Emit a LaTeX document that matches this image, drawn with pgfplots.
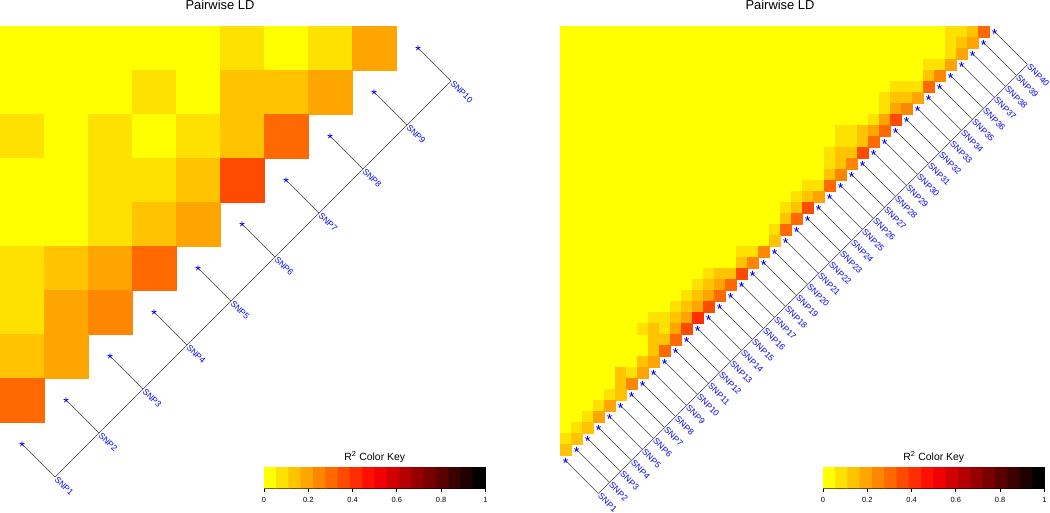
\documentclass[border=0pt]{standalone}
\usepackage{fontspec}
\setmainfont{Liberation Sans}
\usepackage{pgfplots}
\usepackage{pgfplotstable}
\pgfplotsset{compat=1.18}

\definecolor{ld0}{RGB}{255,255,0}
\pgfplotsset{
  colormap={ld}{rgb255=(255,255,0) rgb255=(255,225,0) rgb255=(255,195,0) rgb255=(255,165,0)
    rgb255=(255,135,0) rgb255=(255,105,0) rgb255=(255,75,0) rgb255=(255,45,0) rgb255=(255,15,0)
    rgb255=(240,0,0) rgb255=(210,0,0) rgb255=(180,0,0) rgb255=(150,0,0) rgb255=(120,0,0)
    rgb255=(90,0,0) rgb255=(60,0,0) rgb255=(30,0,0) rgb255=(0,0,0)},
  ldpanel/.style={hide axis, clip=false, y dir=reverse, anchor=north west,
    colormap name=ld, point meta min=0, point meta max=17},
  ldcells/.style={scatter, only marks, mark=square*, scatter src=explicit,
    scatter/use mapped color={draw=mapped color, fill=mapped color},
    mark options={line width=0.2pt}},
  snpline/.style={black!75, line width=0.5pt},
  snpstar/.style={only marks, mark=star, blue, mark size=2pt, mark options={line width=0.55pt}},
  snplab/.style={snpline, nodes near coords, point meta=explicit symbolic,
    nodes near coords style={anchor=west, rotate=-45, text=blue,
      font=\fontsize{6.4}{7.5}\selectfont, inner sep=1pt}},
  ldkey/.style={anchor=south west, scale only axis, width=166pt, height=15.75pt,
    xmin=0, xmax=1, ymin=0, ymax=1, colormap name=ld, point meta min=0, point meta max=17,
    xtick={0,0.2,0.4,0.6,0.8,1}, xticklabels={0,0.2,0.4,0.6,0.8,1}, ytick=\empty,
    xtick pos=left, tick align=outside, major tick length=3pt,
    tick style={black, line width=0.5pt}, axis line style={black, line width=0.6pt},
    ticklabel style={font=\fontsize{5.6}{6}\selectfont},
    xticklabel style={yshift=-0.8pt},
    every axis title shift=0pt,
    title={R\textsuperscript{2} Color Key},
    title style={font=\fontsize{7.8}{9}\selectfont, at={(0.5,1)}, anchor=base, yshift=5.2pt}},
}

% colour key: 18 blocks, two rows for the matrix plot
\pgfplotstableread{
k y
0 0.25
1 0.25
2 0.25
3 0.25
4 0.25
5 0.25
6 0.25
7 0.25
8 0.25
9 0.25
10 0.25
11 0.25
12 0.25
13 0.25
14 0.25
15 0.25
16 0.25
17 0.25
0 0.75
1 0.75
2 0.75
3 0.75
4 0.75
5 0.75
6 0.75
7 0.75
8 0.75
9 0.75
10 0.75
11 0.75
12 0.75
13 0.75
14 0.75
15 0.75
16 0.75
17 0.75
}\keytab

% left: 10 SNPs, colour index of every cell (c = column, r = row from top)
\pgfplotstableread{
c r v
0 0 0
1 0 0
2 0 0
3 0 0
4 0 0
5 0 1
6 0 0
7 0 1
8 0 3
0 1 0
1 1 0
2 1 0
3 1 1
4 1 0
5 1 2
6 1 2
7 1 3
0 2 1
1 2 0
2 2 1
3 2 0
4 2 1
5 2 2
6 2 5
0 3 0
1 3 0
2 3 1
3 3 1
4 3 2
5 3 6
0 4 0
1 4 0
2 4 1
3 4 2
4 4 3
0 5 1
1 5 2
2 5 3
3 5 5
0 6 1
1 6 3
2 6 4
0 7 2
1 7 3
0 8 5
}\leftcells

\pgfplotstableread{
x y
0 9
1 8
2 7
3 6
4 5
5 4
6 3
7 2
8 1
9 0
}\leftstars

\pgfplotstableread{
x y lab
0.75 9.75 SNP1
1.75 8.75 SNP2
2.75 7.75 SNP3
3.75 6.75 SNP4
4.75 5.75 SNP5
5.75 4.75 SNP6
6.75 3.75 SNP7
7.75 2.75 SNP8
8.75 1.75 SNP9
9.75 0.75 SNP10
}\leftbase

% right: 40 SNPs, cells that are not 0 (all others are 0)
\pgfplotstableread{
c r v
35 0 1
36 0 1
37 0 2
38 0 5
35 1 1
36 1 2
37 1 3
35 2 1
36 2 3
33 3 1
34 3 1
35 3 3
33 4 2
34 4 4
30 5 1
31 5 1
32 5 1
33 5 5
29 6 1
30 6 2
31 6 2
32 6 3
29 7 1
30 7 3
31 7 4
28 8 1
29 8 3
30 8 6
25 9 1
26 9 1
27 9 2
28 9 3
29 9 5
25 10 1
26 10 1
27 10 2
28 10 5
24 11 1
25 11 2
26 11 2
27 11 6
24 12 1
25 12 2
26 12 4
24 13 2
25 13 4
22 14 1
23 14 1
24 14 5
21 15 1
22 15 2
23 15 3
20 16 1
21 16 2
22 16 6
20 17 2
21 17 5
19 18 1
20 18 5
19 19 2
16 20 1
17 20 1
18 20 4
16 21 2
17 21 4
13 22 1
14 22 2
15 22 2
16 22 6
12 23 1
13 23 2
14 23 3
15 23 5
11 24 1
12 24 2
13 24 3
14 24 5
10 25 1
11 25 2
12 25 3
13 25 6
8 26 1
9 26 1
10 26 2
11 26 3
12 26 7
7 27 1
8 27 2
9 27 1
10 27 3
11 27 6
8 28 2
9 28 2
10 28 5
8 29 2
9 29 5
7 30 2
8 30 3
5 31 2
6 31 1
7 31 3
5 32 2
6 32 4
4 33 1
5 33 2
3 34 1
4 34 3
2 35 1
3 35 3
1 36 1
2 36 2
0 37 1
1 37 2
0 38 2
}\rightcells

\pgfplotstableread{
x y
0 39
1 38
2 37
3 36
4 35
5 34
6 33
7 32
8 31
9 30
10 29
11 28
12 27
13 26
14 25
15 24
16 23
17 22
18 21
19 20
20 19
21 18
22 17
23 16
24 15
25 14
26 13
27 12
28 11
29 10
30 9
31 8
32 7
33 6
34 5
35 4
36 3
37 2
38 1
39 0
}\rightstars

\pgfplotstableread{
x y lab
3 42 SNP1
4 41 SNP2
5 40 SNP3
6 39 SNP4
7 38 SNP5
8 37 SNP6
9 36 SNP7
10 35 SNP8
11 34 SNP9
12 33 SNP10
13 32 SNP11
14 31 SNP12
15 30 SNP13
16 29 SNP14
17 28 SNP15
18 27 SNP16
19 26 SNP17
20 25 SNP18
21 24 SNP19
22 23 SNP20
23 22 SNP21
24 21 SNP22
25 20 SNP23
26 19 SNP24
27 18 SNP25
28 17 SNP26
29 16 SNP27
30 15 SNP28
31 14 SNP29
32 13 SNP30
33 12 SNP31
34 11 SNP32
35 10 SNP33
36 9 SNP34
37 8 SNP35
38 7 SNP36
39 6 SNP37
40 5 SNP38
41 4 SNP39
42 3 SNP40
}\rightbase

\begin{document}
\begin{tikzpicture}
\path[use as bounding box] (0,0) rectangle (787.5pt,-384.75pt);

\node[anchor=base, font=\fontsize{9.7}{11}\selectfont] at (165pt,-7.1pt) {Pairwise LD};
\node[anchor=base, font=\fontsize{9.7}{11}\selectfont] at (585pt,-7.1pt) {Pairwise LD};

% left heatmap
\begin{axis}[ldpanel, at={(0pt,-19.5pt)}, x=33pt, y=33pt,
  xmin=-0.5, xmax=8.5, ymin=-0.5, ymax=8.5]
\addplot[fill=ld0, draw=none] coordinates {(-0.5,-0.5) (8.5,-0.5) (-0.5,8.5)};
\addplot[ldcells, mark size=16.5pt] table[x=c, y=r, meta=v] {\leftcells};
\addplot[snpline, quiver={u=0.75, v=0.75}] table[x=x, y=y] {\leftstars};
\addplot[snpstar] table[x=x, y=y] {\leftstars};
\addplot[snplab] table[x=x, y=y, meta=lab] {\leftbase};
\end{axis}

% right heatmap
\begin{axis}[ldpanel, at={(420pt,-19.5pt)}, x=8.25pt, y=8.25pt,
  xmin=-0.5, xmax=38.5, ymin=-0.5, ymax=38.5]
\addplot[fill=ld0, draw=none] coordinates {(-0.5,-0.5) (38.5,-0.5) (-0.5,38.5)};
\addplot[ldcells, mark size=4.125pt] table[x=c, y=r, meta=v] {\rightcells};
\addplot[snpline, quiver={u=3, v=3}] table[x=x, y=y] {\rightstars};
\addplot[snpstar] table[x=x, y=y] {\rightstars};
\addplot[snplab] table[x=x, y=y, meta=lab] {\rightbase};
\end{axis}

% colour keys
\begin{axis}[ldkey, at={(198pt,-366pt)}]
\addplot[matrix plot*, mesh/cols=18, point meta=explicit]
  table[x expr={(\thisrow{k}+0.5)/18}, y=y, meta=k] {\keytab};
\end{axis}
\begin{axis}[ldkey, at={(617.25pt,-366pt)}]
\addplot[matrix plot*, mesh/cols=18, point meta=explicit]
  table[x expr={(\thisrow{k}+0.5)/18}, y=y, meta=k] {\keytab};
\end{axis}
\end{tikzpicture}
\end{document}
